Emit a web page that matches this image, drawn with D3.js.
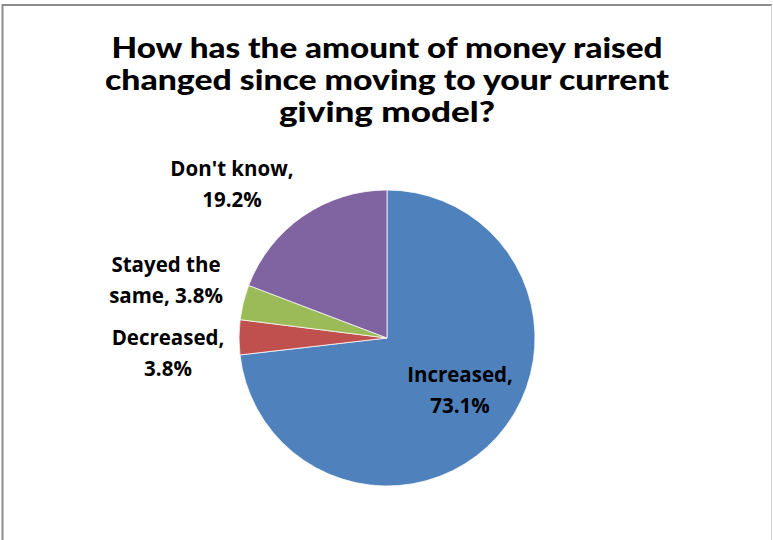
<!DOCTYPE html>
<html><head><meta charset="utf-8">
<script src="https://cdn.jsdelivr.net/npm/d3@7"></script>
<style>body{margin:0;background:#fff}svg{display:block}</style>
</head><body>
<svg id="c" width="773" height="540"></svg>
<script>
const categories = ["Increased", "Decreased", "Stayed the same", "Don't know"];
const values = [73.1, 3.8, 3.8, 19.2];
const colors = ["#4F81BD", "#C0504D", "#9BBB59", "#8064A2"];
const titleLines = ["How has the amount of money raised", "changed since moving to your current", "giving model?"];
const labelLines = [["Increased,", "73.1%"], ["Decreased,", "3.8%"], ["Stayed the", "same, 3.8%"], ["Don't know,", "19.2%"]];
const labelPos = [[460, 382], [168, 345], [166, 272], [232, 176]];

const svg = d3.select("#c");
svg.append("rect").attr("width", 773).attr("height", 540).attr("fill", "#fff");
// frame
svg.append("line").attr("x1", 2).attr("x2", 772).attr("y1", 5).attr("y2", 5).attr("stroke", "#8c8c8c").attr("stroke-width", 2);
svg.append("line").attr("x1", 2.5).attr("x2", 2.5).attr("y1", 4).attr("y2", 540).attr("stroke", "#8c8c8c").attr("stroke-width", 2);
svg.append("line").attr("x1", 771.5).attr("x2", 771.5).attr("y1", 5).attr("y2", 540).attr("stroke", "#d4d4d4").attr("stroke-width", 1);

const tf = "Lato, 'Open Sans', sans-serif";
const tl = [551, 564, 216];
svg.append("g").selectAll("text").data(titleLines).join("text")
  .attr("x", 387).attr("y", (d, i) => 58 + i * 32)
  .attr("text-anchor", "middle").attr("font-family", tf).attr("font-weight", 900)
  .attr("font-size", 29).attr("fill", "#000")
  .attr("textLength", (d, i) => tl[i]).attr("lengthAdjust", "spacingAndGlyphs")
  .text(d => d);

const cx = 387, cy = 338, r = 148;
const pie = d3.pie().sort(null).value(d => d)(values);
const arc = d3.arc().innerRadius(0).outerRadius(r);
const g = svg.append("g").attr("transform", `translate(${cx},${cy})`);
g.selectAll("path").data(pie).join("path")
  .attr("d", arc).attr("fill", (d, i) => colors[i])
  .attr("stroke", "#fff").attr("stroke-width", 0.75).attr("stroke-linejoin", "round");

const lf = "'Open Sans', Lato, sans-serif";
const lg = svg.append("g");
labelLines.forEach((lines, i) => {
  const t = lg.append("text").attr("text-anchor", "middle").attr("font-family", lf)
    .attr("font-weight", "bold").attr("font-size", 20.5).attr("fill", "#000");
  lines.forEach((s, j) => {
    t.append("tspan").attr("x", labelPos[i][0]).attr("y", labelPos[i][1] + j * 31).text(s);
  });
});
</script>
</body></html>
